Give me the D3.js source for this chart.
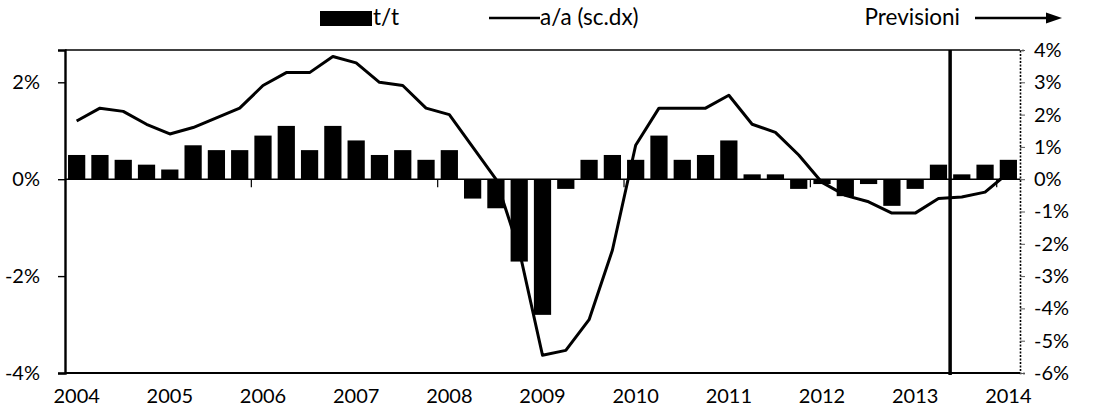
<!DOCTYPE html>
<html>
<head>
<meta charset="utf-8">
<script src="https://cdn.jsdelivr.net/npm/d3@7"></script>
<style>
  html, body { margin: 0; padding: 0; background: #fff; }
  svg { display: block; }
  text { font-family: Lato, "Open Sans", sans-serif; fill: #000; }
</style>
</head>
<body>
<svg id="chart" width="1117" height="410"></svg>
<script>
// ---- data ----
const years = ["2004","2005","2006","2007","2008","2009","2010","2011","2012","2013","2014"];
const quarters = [];
years.forEach(y => ["Q1","Q2","Q3","Q4"].forEach(q => quarters.push(y + q)));
quarters.splice(41); // 2004Q1 .. 2014Q1

// quarter-on-quarter change (left axis, %)
const tt = [0.5, 0.5, 0.4, 0.3,
            0.2, 0.7, 0.6, 0.6,
            0.9, 1.1, 0.6, 1.1,
            0.8, 0.5, 0.6, 0.4,
            0.6, -0.4, -0.6, -1.7,
            -2.8, -0.2, 0.4, 0.5,
            0.4, 0.9, 0.4, 0.5,
            0.8, 0.1, 0.1, -0.2,
            -0.1, -0.35, -0.1, -0.55,
            -0.2, 0.3, 0.1, 0.3,
            0.4];
// year-on-year change (right axis, %)
const aa = [1.8, 2.2, 2.1, 1.7,
            1.4, 1.6, 1.9, 2.2,
            2.9, 3.3, 3.3, 3.8,
            3.6, 3.0, 2.9, 2.2,
            2.0, 1.0, 0.0, -2.2,
            -5.45, -5.3, -4.35, -2.2,
            1.05, 2.2, 2.2, 2.2,
            2.6, 1.7, 1.45, 0.75,
            -0.1, -0.5, -0.7, -1.05,
            -1.05, -0.6, -0.55, -0.4,
            0.2];
const leftTicks = [-4, -2, 0, 2];
const rightTicks = [-6, -5, -4, -3, -2, -1, 0, 1, 2, 3, 4];
const leftDomain = [-4, 8 / 3];
const rightDomain = [-6, 4];
const forecastStart = "2013Q3";
const legendLabels = ["t/t", "a/a (sc.dx)", "Previsioni"];

// ---- layout ----
const svg = d3.select("#chart");
const L = 65, R = 1020, T = 50, B = 373;
const FS = 20, LFS = 22.5;

const x = d3.scaleBand().domain(quarters).range([L, R]).paddingInner(0.26).paddingOuter(0.13);
const yL = d3.scaleLinear().domain(leftDomain).range([B, T]);
const yR = d3.scaleLinear().domain(rightDomain).range([B, T]);

const data = quarters.map((q, i) => ({ q, tt: tt[i], aa: aa[i] }));

// zero (category) line
svg.append("line")
  .attr("x1", L).attr("x2", R).attr("y1", yL(0)).attr("y2", yL(0))
  .attr("stroke", "#000").attr("stroke-width", 1.4);

// category ticks every two years (hanging below the zero line)
const catTicks = quarters.filter((q, i) => i % 8 === 0 && i > 0);
svg.selectAll("line.ctick").data(catTicks).join("line")
  .attr("class", "ctick")
  .attr("x1", d => x(d) - x.step() * x.paddingInner() / 2)
  .attr("x2", d => x(d) - x.step() * x.paddingInner() / 2)
  .attr("y1", yL(0)).attr("y2", yL(0) + 8)
  .attr("stroke", "#000").attr("stroke-width", 1.2);

// bars
svg.selectAll("rect.bar").data(data).join("rect")
  .attr("class", "bar")
  .attr("x", d => x(d.q))
  .attr("width", x.bandwidth())
  .attr("y", d => yL(Math.max(0, d.tt)))
  .attr("height", d => Math.abs(yL(d.tt) - yL(0)))
  .attr("fill", "#000");

// y/y line
const line = d3.line()
  .x(d => x(d.q) + x.bandwidth() / 2)
  .y(d => yR(d.aa));
svg.append("path").datum(data)
  .attr("d", line)
  .attr("fill", "none")
  .attr("stroke", "#000")
  .attr("stroke-width", 3)
  .attr("stroke-linejoin", "round");

// plot border: top and bottom
svg.append("line").attr("x1", L).attr("x2", R).attr("y1", T).attr("y2", T)
  .attr("stroke", "#000").attr("stroke-width", 1.6);
svg.append("line").attr("x1", L).attr("x2", R).attr("y1", B).attr("y2", B)
  .attr("stroke", "#000").attr("stroke-width", 1.8);

// left axis
const axL = d3.axisLeft(yL).tickValues(leftTicks).tickFormat(d => d + "%")
  .tickSize(7).tickPadding(18);
const gL = svg.append("g").attr("transform", `translate(${L},0)`).call(axL);
gL.select(".domain").attr("stroke", "#000").attr("stroke-width", 2.4);
gL.selectAll(".tick line").attr("stroke", "#000").attr("stroke-width", 1.4);
gL.selectAll("text").style("font-size", FS + "px").attr("fill", "#000");

// right axis
const axR = d3.axisRight(yR).tickValues(rightTicks).tickFormat(d => d + "%")
  .tickSize(5).tickPadding(9);
const gR = svg.append("g").attr("transform", `translate(${R},0)`).call(axR);
gR.select(".domain").attr("stroke", "#000").attr("stroke-width", 1.6)
  .attr("stroke-dasharray", "2,1.5");
gR.selectAll(".tick line").attr("stroke", "#555").attr("stroke-width", 1);
gR.selectAll("text").style("font-size", FS + "px").attr("fill", "#000");

// bottom labels
const yearTicks = quarters.filter((q, i) => i % 4 === 0);
const axB = d3.axisBottom(x).tickValues(yearTicks).tickFormat(d => d.slice(0, 4))
  .tickSize(0).tickPadding(16);
const gB = svg.append("g").attr("transform", `translate(0,${B})`).call(axB);
gB.select(".domain").remove();
gB.selectAll("text").style("font-size", FS + "px").attr("fill", "#000");

// forecast separator
const fIdx = quarters.indexOf(forecastStart);
const fx = (x(quarters[fIdx - 1]) + x.bandwidth() + x(forecastStart)) / 2;
svg.append("line").attr("x1", fx).attr("x2", fx).attr("y1", T).attr("y2", B + 2)
  .attr("stroke", "#000").attr("stroke-width", 3.5);

// legend
const lg = svg.append("g");
lg.append("rect").attr("x", 320).attr("y", 11).attr("width", 52).attr("height", 15).attr("fill", "#000");
lg.append("text").attr("x", 373).attr("y", 25).style("font-size", LFS + "px").text(legendLabels[0]);
lg.append("line").attr("x1", 489).attr("x2", 540).attr("y1", 18).attr("y2", 18)
  .attr("stroke", "#000").attr("stroke-width", 2.6);
lg.append("text").attr("x", 540).attr("y", 25).style("font-size", LFS + "px").text(legendLabels[1]);
lg.append("text").attr("x", 960).attr("y", 25).attr("text-anchor", "end").style("font-size", LFS + "px").text(legendLabels[2]);
lg.append("line").attr("x1", 975).attr("x2", 1048).attr("y1", 18).attr("y2", 18)
  .attr("stroke", "#000").attr("stroke-width", 2.6);
lg.append("path").attr("d", "M1046,12.5 L1062,18 L1046,23.5 Z").attr("fill", "#000");
</script>
</body>
</html>
